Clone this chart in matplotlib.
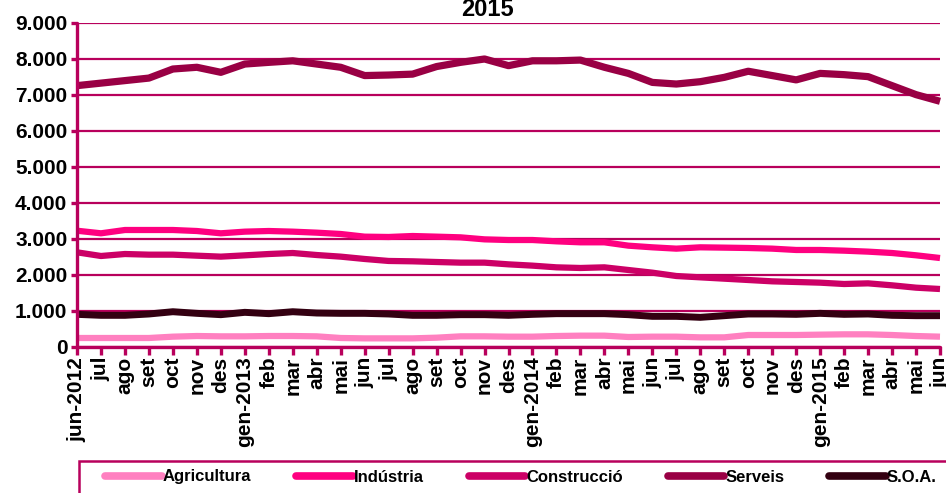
import matplotlib
matplotlib.use("Agg")
import matplotlib.pyplot as plt
from matplotlib.patches import Rectangle

plt.rcParams['font.family'] = ['Liberation Sans', 'DejaVu Sans']
plt.rcParams['font.weight'] = 'bold'

months = ["jun-2012", "jul", "ago", "set", "oct", "nov", "des", "gen-2013", "feb", "mar",
          "abr", "mai", "jun", "jul", "ago", "set", "oct", "nov", "des", "gen-2014",
          "feb", "mar", "abr", "mai", "jun", "jul", "ago", "set", "oct", "nov", "des",
          "gen-2015", "feb", "mar", "abr", "mai", "jun"]

agricultura = [250, 250, 250, 250, 287, 305, 296, 296, 305, 305, 296, 250, 240, 240, 240, 259,
               296, 296, 287, 287, 305, 315, 315, 278, 287, 287, 268, 268, 333, 333, 333, 343,
               352, 352, 333, 305, 287]
industria = [3230, 3158, 3250, 3250, 3250, 3222, 3158, 3204, 3222, 3204, 3176, 3139, 3065, 3056,
             3083, 3065, 3046, 2990, 2972, 2972, 2935, 2908, 2908, 2815, 2769, 2732, 2769, 2760,
             2750, 2732, 2695, 2695, 2676, 2649, 2611, 2547, 2472]
construccio = [2630, 2528, 2583, 2565, 2565, 2537, 2510, 2546, 2583, 2611, 2555, 2510, 2445, 2390,
               2380, 2361, 2343, 2343, 2296, 2260, 2213, 2195, 2213, 2139, 2065, 1972, 1935, 1898,
               1861, 1824, 1806, 1787, 1750, 1768, 1713, 1648, 1611]
serveis = [7260, 7330, 7400, 7470, 7722, 7770, 7630, 7860, 7907, 7950, 7860, 7770, 7540, 7555,
           7580, 7790, 7907, 8000, 7815, 7950, 7950, 7970, 7770, 7600, 7350, 7305, 7370, 7490,
           7660, 7540, 7420, 7600, 7565, 7510, 7260, 7010, 6825]
soa = [907, 880, 880, 917, 980, 935, 898, 963, 926, 980, 944, 935, 935, 917, 880, 880, 898, 898,
       880, 907, 926, 926, 926, 898, 852, 852, 824, 870, 917, 917, 907, 935, 907, 917, 880, 870, 870]

series = [("Agricultura", agricultura, "#FF80C0", 4.5),
          ("Indústria", industria, "#FF0080", 4.5),
          ("Construcció", construccio, "#CC0066", 4.5),
          ("Serveis", serveis, "#990044", 5.2),
          ("S.O.A.", soa, "#330011", 5.0)]

W, H = 946, 493
fig = plt.figure(figsize=(W / 100, H / 100), dpi=100)
ax = fig.add_axes([77 / W, 1 - 347 / H, (940 - 77) / W, (347 - 23) / H])

axis_col = "#B8005C"
x = list(range(len(months)))
handles = []
for name, vals, col, lw in series:
    h, = ax.plot(x, vals, color=col, lw=lw, solid_capstyle='butt', solid_joinstyle='round',
                 label=name, zorder=3, clip_on=False)
    handles.append(h)

ax.set_xlim(0, len(months) - 1)
ax.set_ylim(0, 9000)
yt = list(range(0, 9001, 1000))
ax.set_yticks(yt)
ax.set_yticklabels(["0"] + [f"{v // 1000}.000" for v in yt[1:]], fontsize=15, fontweight='bold')
ax.set_xticks(x)
ax.set_xticklabels(months, rotation=90, fontsize=15, fontweight='bold')
ax.grid(axis='y', color=axis_col, lw=1.6, zorder=1)
ax.set_axisbelow(True)
for s in ['top', 'right']:
    ax.spines[s].set_visible(False)
for s in ['left', 'bottom']:
    ax.spines[s].set_color(axis_col)
    ax.spines[s].set_linewidth(2.4)
    ax.spines[s].set_zorder(4)
    ax.spines[s].set_capstyle('round')
ax.tick_params(axis='x', colors=axis_col, width=2.4, length=6, direction='out', pad=1,
               labelcolor='black')
ax.tick_params(axis='y', colors=axis_col, width=2.4, length=4, direction='out', pad=3,
               labelcolor='black')
fig.text(487 / W, 1 - 9 / H, "2015", ha='center', va='center', fontsize=17, fontweight='bold')

# legend box
fig.patches.append(Rectangle((79 / W, -0.05), 0.95, (493 - 461) / H + 0.05,
                             transform=fig.transFigure, fill=False,
                             edgecolor=axis_col, lw=1.8))
leg = fig.legend(handles=handles, loc='center left', bbox_to_anchor=(105 / W, 1 - 477 / H), ncol=5,
                 frameon=False, handlelength=3.4, handletextpad=0.05, columnspacing=2.7,
                 borderpad=0, borderaxespad=0, prop={'weight': 'bold', 'size': 12})
for lh in leg.get_lines():
    lh.set_linewidth(5.5)
    lh.set_solid_capstyle('round')

fig.savefig("out.png", dpi=100)
